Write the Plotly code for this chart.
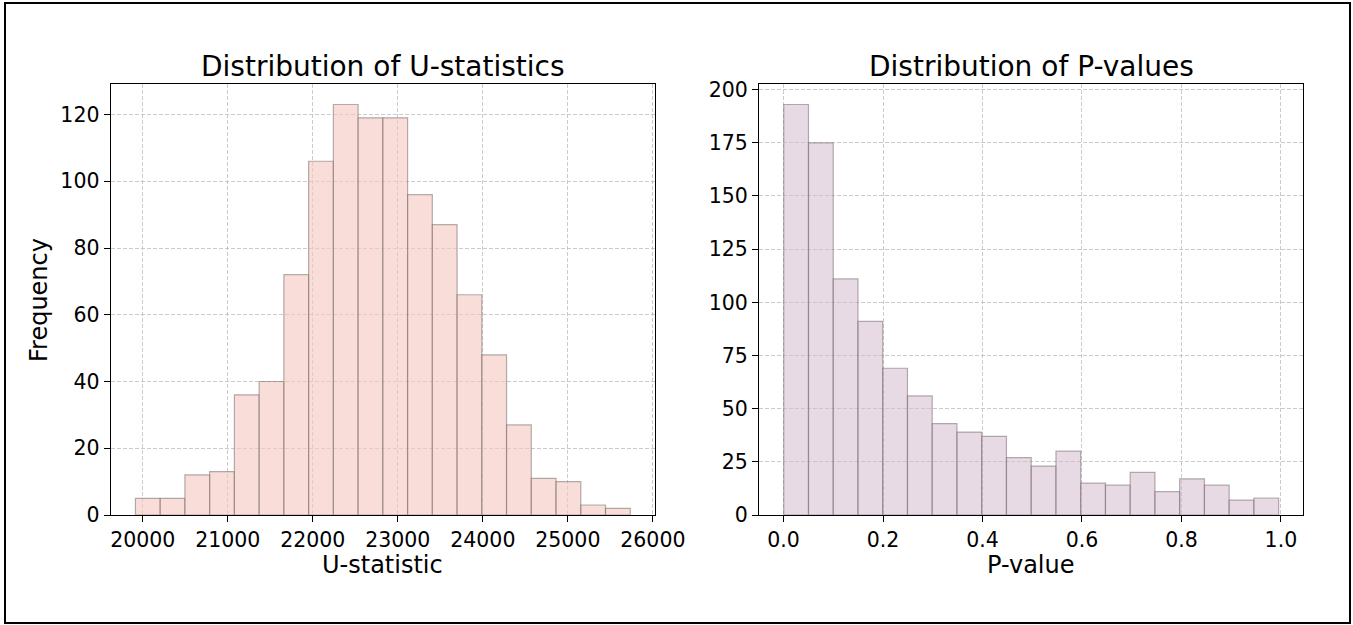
import numpy as np
import plotly.graph_objects as go

# ---- data ----
u_counts = [5, 5, 12, 13, 36, 40, 72, 106, 123, 119, 119, 96, 87, 66, 48, 27, 11, 10, 3, 2]
u_min, u_max = 19914.0, 25734.0

p_counts = [193, 175, 111, 91, 69, 56, 43, 39, 37, 27, 23, 30, 15, 14, 20, 11, 17, 14, 7, 8]
p_min, p_max = 0.0003, 0.9955

u_ticks = [20000, 21000, 22000, 23000, 24000, 25000, 26000]
p_ticks = [0.0, 0.2, 0.4, 0.6, 0.8, 1.0]
u_yticks = [0, 20, 40, 60, 80, 100, 120]
p_yticks = [0, 25, 50, 75, 100, 125, 150, 175, 200]

titles = ["Distribution of U-statistics", "Distribution of P-values"]
xlabels = ["U-statistic", "P-value"]
ylabel = "Frequency"


def bins(lo, hi, counts):
    edges = np.linspace(lo, hi, len(counts) + 1)
    centers = (edges[:-1] + edges[1:]) / 2
    return centers, edges[1] - edges[0]


W, H = 1353, 625
FONT = "DejaVu Sans"

uc, uw = bins(u_min, u_max, u_counts)
pc, pw = bins(p_min, p_max, p_counts)

fig = go.Figure()
fig.add_trace(go.Bar(
    x=uc, y=u_counts, width=uw, xaxis="x", yaxis="y",
    marker=dict(color="rgba(244,200,192,0.62)",
                line=dict(color="rgba(120,110,110,0.55)", width=1.2)),
    showlegend=False, hoverinfo="x+y"))
fig.add_trace(go.Bar(
    x=pc, y=p_counts, width=pw, xaxis="x2", yaxis="y2",
    marker=dict(color="rgba(212,188,208,0.55)",
                line=dict(color="rgba(120,110,110,0.55)", width=1.2)),
    showlegend=False, hoverinfo="x+y"))


def px_x(v):
    return v / W


def px_y(v):
    return 1 - v / H


def margin_range(lo, hi):
    d = hi - lo
    return [lo - 0.05 * d, hi + 0.05 * d]


common_axis = dict(
    showline=True, mirror=True, linecolor="black", linewidth=1.2,
    ticks="outside", ticklen=6, tickwidth=1.2, tickcolor="black",
    showgrid=True, gridcolor="rgba(190,190,190,0.8)", griddash="4px,2px", gridwidth=1,
    zeroline=False, automargin=False, tickfont=dict(family=FONT, size=20.5, color="black"),
)

fig.update_layout(
    template="none",
    width=W, height=H, autosize=False,
    margin=dict(l=0, r=0, t=0, b=0, autoexpand=False),
    paper_bgcolor="white", plot_bgcolor="white",
    barmode="overlay",
    xaxis=dict(domain=[px_x(110.7), px_x(655)], range=margin_range(u_min, u_max),
               tickvals=u_ticks, ticktext=[str(t) for t in u_ticks], anchor="y", **common_axis),
    yaxis=dict(domain=[px_y(515), px_y(84)], range=[0, max(u_counts) * 1.05],
               tickvals=u_yticks, anchor="x", **common_axis),
    xaxis2=dict(domain=[px_x(759), px_x(1303.4)], range=margin_range(p_min, p_max),
                tickvals=p_ticks, ticktext=[f"{t:.1f}" for t in p_ticks], anchor="y2", **common_axis),
    yaxis2=dict(domain=[px_y(515), px_y(84)], range=[0, max(p_counts) * 1.05],
                tickvals=p_yticks, anchor="x2", **common_axis),
)

ann = []
centers_px = [(110.7 + 655) / 2, (759 + 1303.4) / 2]
for i in range(2):
    ann.append(dict(text=titles[i], x=px_x(centers_px[i]), y=px_y(66), xref="paper", yref="paper",
                    xanchor="center", yanchor="middle", showarrow=False,
                    font=dict(family=FONT, size=28, color="black")))
    ann.append(dict(text=xlabels[i], x=px_x(centers_px[i]), y=px_y(565), xref="paper", yref="paper",
                    xanchor="center", yanchor="middle", showarrow=False,
                    font=dict(family=FONT, size=24, color="black")))
ann.append(dict(text=ylabel, x=px_x(39), y=px_y(300), xref="paper", yref="paper",
                xanchor="center", yanchor="middle", showarrow=False, textangle=-90,
                font=dict(family=FONT, size=24, color="black")))
fig.update_layout(annotations=ann)

fig.add_shape(type="rect", xref="paper", yref="paper",
              x0=px_x(5), x1=px_x(1350), y0=px_y(623), y1=px_y(3),
              line=dict(color="black", width=2), fillcolor="rgba(0,0,0,0)", layer="above")

fig.write_html("out.html",
               config={"displayModeBar": False},
               post_script="document.body.style.margin='0';document.body.style.overflow='hidden';")
